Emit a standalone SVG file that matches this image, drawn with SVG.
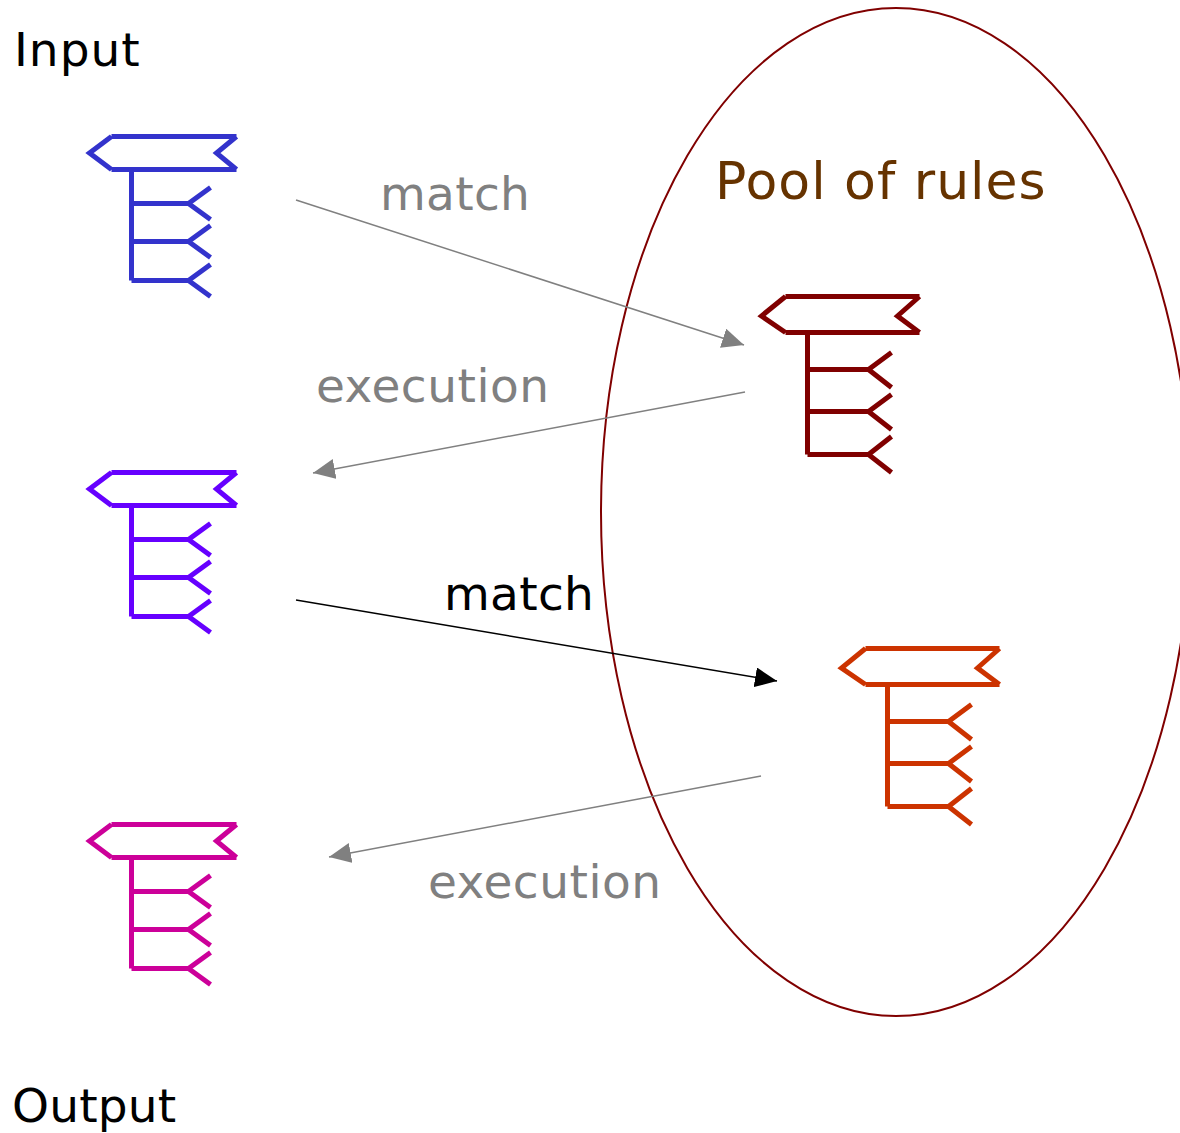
<svg xmlns="http://www.w3.org/2000/svg" width="1180" height="1133" viewBox="0 0 1180 1133">
<style>
text{font-family:"DejaVu Sans",Verdana,sans-serif;font-size:47px}
.g{fill:#808080}
.t{fill:none;stroke-width:5;stroke-linejoin:miter;stroke-linecap:butt}
.c{fill:none;stroke:#808080;stroke-width:1.5}
</style>
<defs>
<marker id="ag" markerUnits="userSpaceOnUse" markerWidth="23" markerHeight="20" refX="22" refY="10" orient="auto"><path d="M0 0L22 10L0 20Z" fill="#808080"/></marker>
<marker id="ak" markerUnits="userSpaceOnUse" markerWidth="23" markerHeight="20" refX="22" refY="10" orient="auto"><path d="M0 0L22 10L0 20Z" fill="#000"/></marker>
<g id="term"><path d="M111.500 136.500H236.500M236.500 136.500L216.500 153L236.500 169.500M111.500 136.500L89.500 153L111.500 169.500M111.500 169.500H236.500M131.500 169.500V280.500M131.500 203.500H188.500M131.500 241.500H188.500M131.500 280.500H188.500M210.500 187.500L188.500 203.500L210.500 219.500M210.500 225.500L188.500 241.500L210.500 257.500M210.500 264.500L188.500 280.500L210.500 296.500"/></g>
<g id="rule"><path d="M785.500 296.500H919.500M919.500 296.500L897.500 316L919.500 332.500M785.500 296.500L761.500 316L785.500 332.500M785.500 332.500H919.500M807.500 332.500V454.500M807.500 369.500H868.500M807.500 411.500H868.500M807.500 454.500H868.500M891.500 352.500L868.500 369.500L891.500 387.500M891.500 394.500L868.500 411.500L891.500 429.500M891.500 436.500L868.500 454.500L891.500 472.500"/></g>
</defs>
<g id="pool"><ellipse cx="896" cy="512" rx="295" ry="504" fill="none" stroke="#800000" stroke-width="2"/><text x="715" y="199" fill="#663300" style="font-size:52px;letter-spacing:1px">Pool of rules</text></g>
<g id="input-label"><text x="14" y="66" style="letter-spacing:1px">Input</text></g>
<g id="output-label"><text x="12" y="1122" style="letter-spacing:.2px">Output</text></g>
<g id="term-input" class="t" stroke="#3333cc"><use href="#term"/></g>
<g id="term-mid" class="t" stroke="#6600ff"><use href="#term" y="336"/></g>
<g id="term-output" class="t" stroke="#cc0099"><use href="#term" y="688"/></g>
<g id="rule-1" class="t" stroke="#800000"><use href="#rule"/></g>
<g id="rule-2" class="t" stroke="#cc3300"><use href="#rule" x="80" y="352"/></g>
<g id="connectors">
<path class="c" d="M296 200L744 345" marker-end="url(#ag)"/>
<path class="c" d="M745 392L313 473" marker-end="url(#ag)"/>
<path d="M296 600L777 681" fill="none" stroke="#000" stroke-width="1.500" marker-end="url(#ak)"/>
<path class="c" d="M761 776L329 857" marker-end="url(#ag)"/>
</g>
<g id="labels">
<text class="g" x="380" y="210" style="letter-spacing:.3px">match</text>
<text class="g" x="316" y="402" style="letter-spacing:.5px">execution</text>
<text x="444" y="610" style="letter-spacing:.3px">match</text>
<text class="g" x="428" y="898" style="letter-spacing:.5px">execution</text>
</g>
</svg>
